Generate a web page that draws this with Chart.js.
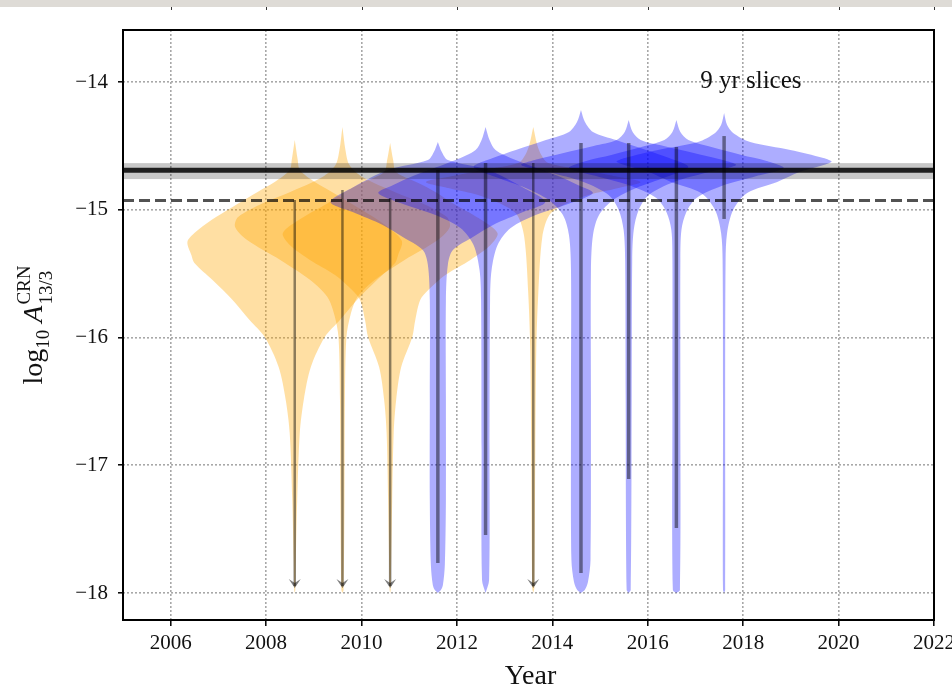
<!DOCTYPE html>
<html>
<head>
<meta charset="utf-8">
<script src="https://cdn.jsdelivr.net/npm/chart.js@4/dist/chart.umd.min.js"></script>
<style>
  html, body { margin: 0; padding: 0; background: #ffffff; }
  #wrap { width: 952px; height: 687px; position: relative; }
</style>
</head>
<body>
<div id="wrap"><canvas id="c" width="952" height="687"></canvas></div>
<script>
// ---------------- data ----------------
const xTickValues = [2006, 2008, 2010, 2012, 2014, 2016, 2018, 2020, 2022];
const yTickValues = [-18, -17, -16, -15, -14];

// end year of each 9-yr slice
const sliceEndYears = [2008.6, 2009.6, 2010.6, 2011.6, 2012.6, 2013.6, 2014.6, 2015.6, 2016.6, 2017.6];
// slices that only give an upper limit (orange, arrow) vs. a measurement (blue)
const sliceIsUpperLimit = [true, true, true, false, false, true, false, false, false, false];
// credible interval of log10 A for each slice
const intervalHigh = [-14.924, -14.845, -14.908, -14.689, -14.634, -14.634, -14.477, -14.477, -14.509, -14.423];
const intervalLow  = [-17.961, -17.961, -17.961, -17.765, -17.546, -17.961, -17.843, -17.108, -17.491, -15.072];

// full-data-set reference values
const fullDataMedian = [-14.69];
const fullDataBand = [-14.635, -14.76];
const fullDataUpperLimit = [-14.928];

// posterior densities per slice: [log10 A, density relative to the slice peak]
const kde2008 = [[-14.454,0],[-14.611,0.028],[-14.689,0.047],[-14.783,0.187],[-14.861,0.346],[-14.978,0.579],[-15.080,0.776],[-15.182,0.935],[-15.252,1],[-15.354,0.963],[-15.417,0.935],[-15.550,0.766],[-15.706,0.579],[-15.863,0.421],[-15.996,0.28],[-16.231,0.15],[-16.489,0.084],[-16.748,0.047],[-17.272,0.023],[-17.742,0.01],[-17.977,0.005],[-18.0,0]];
const kde2009 = [[-14.352,0],[-14.532,0.028],[-14.650,0.065],[-14.744,0.187],[-14.861,0.486],[-14.947,0.738],[-15.057,0.972],[-15.135,1],[-15.237,0.888],[-15.393,0.579],[-15.550,0.3],[-15.683,0.14],[-15.824,0.075],[-15.996,0.037],[-16.489,0.023],[-17.272,0.019],[-17.977,0.01],[-18.0,0]];
const kde2010 = [[-14.477,0],[-14.611,0.028],[-14.705,0.056],[-14.791,0.262],[-14.861,0.421],[-14.947,0.579],[-15.065,0.822],[-15.182,1],[-15.276,0.935],[-15.393,0.748],[-15.511,0.514],[-15.628,0.355],[-15.706,0.28],[-15.863,0.234],[-15.996,0.206],[-16.231,0.103],[-16.489,0.056],[-16.748,0.033],[-17.272,0.019],[-17.977,0.005],[-18.0,0]];
const kde2011 = [[-14.470,0],[-14.548,0.037],[-14.611,0.093],[-14.689,0.467],[-14.822,0.785],[-14.939,1],[-15.018,0.794],[-15.119,0.514],[-15.213,0.327],[-15.315,0.14],[-15.432,0.093],[-15.706,0.075],[-16.489,0.075],[-17.272,0.075],[-17.781,0.065],[-17.937,0.047],[-17.977,0.028],[-18.0,0]];
const kde2012 = [[-14.352,0],[-14.454,0.037],[-14.532,0.093],[-14.611,0.28],[-14.728,0.654],[-14.806,0.86],[-14.869,1],[-14.947,0.794],[-15.041,0.467],[-15.143,0.234],[-15.276,0.112],[-15.472,0.056],[-15.706,0.042],[-16.881,0.037],[-17.898,0.033],[-18.0,0]];
const kde2013 = [[-14.352,0],[-14.493,0.037],[-14.571,0.075],[-14.634,0.14],[-14.689,0.467],[-14.736,0.748],[-14.783,1],[-14.830,0.794],[-14.885,0.514],[-14.963,0.28],[-15.041,0.15],[-15.213,0.084],[-15.652,0.047],[-16.098,0.028],[-16.881,0.019],[-17.961,0.01],[-18.0,0]];
const kde2014 = [[-14.219,0],[-14.313,0.037],[-14.391,0.112],[-14.454,0.327],[-14.532,0.607],[-14.595,0.822],[-14.665,1],[-14.744,0.794],[-14.830,0.514],[-14.924,0.3],[-15.041,0.168],[-15.198,0.112],[-15.472,0.093],[-16.489,0.093],[-17.742,0.089],[-17.914,0.065],[-17.977,0.035],[-18.0,0]];
const kde2015 = [[-14.297,0],[-14.391,0.037],[-14.454,0.112],[-14.501,0.327],[-14.556,0.607],[-14.603,0.841],[-14.650,1],[-14.705,0.748],[-14.783,0.421],[-14.885,0.187],[-15.002,0.093],[-15.159,0.047],[-15.393,0.033],[-16.489,0.028],[-17.977,0.019],[-18.0,0]];
const kde2016 = [[-14.297,0],[-14.391,0.037],[-14.454,0.112],[-14.509,0.327],[-14.571,0.607],[-14.618,0.841],[-14.673,1],[-14.736,0.748],[-14.814,0.421],[-14.908,0.187],[-15.018,0.093],[-15.159,0.047],[-15.393,0.037],[-16.489,0.037],[-17.977,0.033],[-18.0,0]];
const kde2017 = [[-14.243,0],[-14.337,0.028],[-14.399,0.084],[-14.470,0.243],[-14.532,0.617],[-14.595,0.925],[-14.626,1],[-14.705,0.701],[-14.783,0.495],[-14.869,0.215],[-15.002,0.084],[-15.182,0.028],[-15.393,0.014],[-16.489,0.01],[-17.977,0.01],[-18.0,0]];

const kdeProfiles = [kde2008, kde2009, kde2010, kde2011, kde2012, kde2013, kde2014, kde2015, kde2016, kde2017];

// ---------------- drawing ----------------
const SERIF = '"Liberation Serif", "Times New Roman", serif';
const HALF_WIDTH = 2.25;              // violin half-width (years) at peak density
const ORANGE = 'rgba(255,165,0,0.36)';
const BLUE = 'rgba(0,0,255,0.32)';

// each violin is a closed outline: down the left edge, back up the right edge
const violinSets = sliceEndYears.map((yr, i) => {
  const prof = kdeProfiles[i];
  const left = prof.map(([v, d]) => ({ x: yr - d * HALF_WIDTH, y: v }));
  const right = prof.slice().reverse().map(([v, d]) => ({ x: yr + d * HALF_WIDTH, y: v }));
  const upper = sliceIsUpperLimit[i];
  return {
    type: 'line',
    data: left.concat(right),
    fill: 'shape',
    backgroundColor: upper ? ORANGE : BLUE,
    borderColor: 'transparent',
    borderWidth: 0,
    pointRadius: 0,
    tension: 0.3,
    // higher order is painted first: orange under blue, older under newer
    order: (upper ? 100 : 0) + (sliceEndYears.length - i)
  };
});

const decorations = {
  id: 'decorations',
  beforeDraw(chart) {
    const { ctx, scales: { x } } = chart;
    ctx.save();
    // strip of the neighbouring panel above
    ctx.fillStyle = '#dedbd6';
    ctx.fillRect(0, 0, chart.width, 7);
    ctx.strokeStyle = '#333';
    ctx.lineWidth = 1;
    xTickValues.forEach(v => {
      const px = Math.round(x.getPixelForValue(v)) + 0.5;
      ctx.beginPath(); ctx.moveTo(px, 7); ctx.lineTo(px, 10); ctx.stroke();
    });
    ctx.restore();
  },
  afterDraw(chart) {
    const { ctx, chartArea: a, scales: { x, y } } = chart;
    ctx.save();
    ctx.beginPath();
    ctx.rect(a.left, a.top, a.right - a.left, a.bottom - a.top);
    ctx.clip();

    const hline = v => {
      const py = y.getPixelForValue(v);
      ctx.beginPath(); ctx.moveTo(a.left, py); ctx.lineTo(a.right, py); ctx.stroke();
    };
    // full data set: 1-sigma band, median, upper limit
    const yb1 = y.getPixelForValue(fullDataBand[0]);
    const yb2 = y.getPixelForValue(fullDataBand[1]);
    ctx.fillStyle = 'rgba(0,0,0,0.22)';
    ctx.fillRect(a.left, yb1, a.right - a.left, yb2 - yb1);
    ctx.strokeStyle = 'rgba(0,0,0,0.85)';
    ctx.lineWidth = 5;
    hline(fullDataMedian[0]);
    ctx.setLineDash([11, 5]);
    ctx.strokeStyle = 'rgba(0,0,0,0.68)';
    ctx.lineWidth = 3;
    hline(fullDataUpperLimit[0]);
    ctx.setLineDash([]);

    // per-slice intervals; upper limits end in an arrow
    sliceEndYears.forEach((yr, i) => {
      const px = x.getPixelForValue(yr);
      const pTop = y.getPixelForValue(intervalHigh[i]);
      const pBot = y.getPixelForValue(intervalLow[i]);
      const upper = sliceIsUpperLimit[i];
      ctx.strokeStyle = 'rgba(0,0,0,0.45)';
      ctx.lineWidth = upper ? 2.5 : 3.5;
      ctx.lineCap = 'butt';
      ctx.beginPath(); ctx.moveTo(px, pTop); ctx.lineTo(px, upper ? pBot - 2 : pBot); ctx.stroke();
      if (upper) {
        ctx.fillStyle = 'rgba(0,0,0,0.5)';
        ctx.beginPath();
        ctx.moveTo(px - 6, pBot - 9);
        ctx.lineTo(px, pBot);
        ctx.lineTo(px + 6, pBot - 9);
        ctx.lineTo(px, pBot - 5);
        ctx.closePath();
        ctx.fill();
      }
    });
    ctx.restore();

    // frame
    ctx.save();
    ctx.strokeStyle = '#000';
    ctx.lineWidth = 2;
    ctx.strokeRect(a.left, a.top, a.right - a.left, a.bottom - a.top);
    ctx.restore();

    // annotation
    ctx.save();
    ctx.fillStyle = '#111';
    ctx.font = '25px ' + SERIF;
    ctx.textAlign = 'center';
    ctx.textBaseline = 'alphabetic';
    ctx.fillText('9 yr slices', x.getPixelForValue(2018.16), y.getPixelForValue(-14) + 6);
    ctx.restore();

    // x title
    ctx.save();
    ctx.fillStyle = '#111';
    ctx.font = '28px ' + SERIF;
    ctx.textAlign = 'center';
    ctx.textBaseline = 'alphabetic';
    ctx.fillText('Year', (a.left + a.right) / 2 + 2, 684);
    ctx.restore();

    // y title: log10 A^CRN_13/3
    ctx.save();
    ctx.fillStyle = '#111';
    ctx.translate(42, (a.top + a.bottom) / 2);
    ctx.rotate(-Math.PI / 2);
    ctx.textBaseline = 'alphabetic';
    ctx.textAlign = 'left';
    const big = '28px ' + SERIF, bigIt = 'italic 28px ' + SERIF, small = '19px ' + SERIF;
    const w = (t, f) => { ctx.font = f; return ctx.measureText(t).width; };
    const wLog = w('log', big), w10 = w('10', small), wA = w('A', bigIt);
    const wSup = w('CRN', small), wSub = w('13/3', small);
    const gap = 7;
    const total = wLog + w10 + gap + wA + 1 + Math.max(wSup, wSub);
    let cx = -total / 2;
    ctx.font = big; ctx.fillText('log', cx, 0); cx += wLog;
    ctx.font = small; ctx.fillText('10', cx, 7); cx += w10 + gap;
    ctx.font = bigIt; ctx.fillText('A', cx, 0); cx += wA + 1;
    ctx.font = small; ctx.fillText('CRN', cx, -12); ctx.fillText('13/3', cx, 10);
    ctx.restore();
  }
};

new Chart(document.getElementById('c'), {
  type: 'line',
  data: { datasets: violinSets },
  options: {
    responsive: false,
    maintainAspectRatio: false,
    animation: false,
    devicePixelRatio: 1,
    events: [],
    layout: { padding: { top: 30, right: 18, bottom: 0, left: 0 } },
    plugins: { legend: { display: false }, tooltip: { enabled: false } },
    scales: {
      x: {
        type: 'linear',
        min: 2005,
        max: 2022,
        z: 1,
        afterBuildTicks: s => { s.ticks = xTickValues.map(v => ({ value: v })); },
        afterFit: s => { s.height = 67; s.paddingLeft = 0; s.paddingRight = 0; },
        grid: {
          color: '#a8a8a8', lineWidth: 1.6,
          drawTicks: true, tickLength: 6, tickColor: '#000', tickWidth: 1.5, tickBorderDash: []
        },
        border: { display: false, dash: [2, 2] },
        ticks: {
          autoSkip: false, maxRotation: 0, padding: 5, color: '#111',
          font: { family: SERIF, size: 21 },
          callback: v => String(v)
        }
      },
      y: {
        type: 'linear',
        min: -18.211,
        max: -13.593,
        z: 1,
        afterBuildTicks: s => { s.ticks = yTickValues.map(v => ({ value: v })); },
        afterFit: s => { s.width = 123; s.paddingTop = 0; s.paddingBottom = 0; },
        grid: {
          color: '#a8a8a8', lineWidth: 1.6,
          drawTicks: true, tickLength: 5, tickColor: '#000', tickWidth: 1.5, tickBorderDash: []
        },
        border: { display: false, dash: [2, 2] },
        ticks: {
          autoSkip: false, padding: 10, color: '#111',
          font: { family: SERIF, size: 21 },
          callback: v => '\u2212' + Math.abs(v)
        }
      }
    }
  },
  plugins: [decorations]
});
</script>
</body>
</html>
